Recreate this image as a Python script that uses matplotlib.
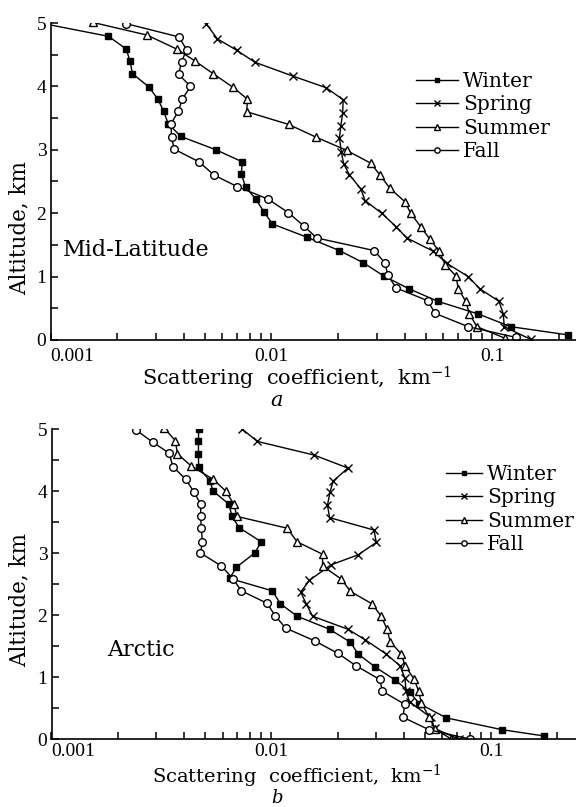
import numpy as np
import matplotlib
matplotlib.use('Agg')
import matplotlib.pyplot as plt
from matplotlib.ticker import FixedLocator, NullFormatter

plt.rcParams['font.family'] = 'DejaVu Serif'
plt.rcParams['mathtext.fontset'] = 'custom'
plt.rcParams['mathtext.rm'] = 'DejaVu Serif'
plt.rcParams['mathtext.it'] = 'DejaVu Serif:italic'

seasons = ['Winter', 'Spring', 'Summer', 'Fall']

# panel a: mid-latitude (altitude km, scattering coefficient km^-1)
mid_winter_alt = [5.0, 4.79, 4.59, 4.40, 4.20, 3.99, 3.80, 3.61, 3.41, 3.21, 3.0, 2.81, 2.62,
                  2.41, 2.22, 2.02, 1.83, 1.62, 1.41, 1.22, 1.01, 0.81, 0.61, 0.41, 0.21, 0.08]
mid_winter_val = [0.0009, 0.00183, 0.0022, 0.00229, 0.00235, 0.00279, 0.00306, 0.00325, 0.00341,
                  0.00389, 0.00561, 0.00738, 0.0073, 0.00764, 0.0085, 0.00925, 0.0101, 0.0145,
                  0.0203, 0.026, 0.0322, 0.0418, 0.0566, 0.0863, 0.121, 0.22]
mid_spring_alt = [4.99, 4.75, 4.57, 4.38, 4.16, 3.98, 3.79, 3.58, 3.38, 3.19, 2.97, 2.78, 2.61,
                  2.38, 2.2, 2.0, 1.79, 1.61, 1.40, 1.21, 1.0, 0.81, 0.61, 0.41, 0.21, 0.01]
mid_spring_val = [0.00506, 0.00569, 0.00696, 0.00842, 0.01256, 0.01765, 0.0211, 0.0210, 0.0206,
                  0.0203, 0.0207, 0.0212, 0.0225, 0.0254, 0.0265, 0.0315, 0.0366, 0.0409, 0.054,
                  0.0621, 0.0777, 0.0875, 0.107, 0.112, 0.113, 0.149]
mid_summer_alt = [5.01, 4.81, 4.59, 4.40, 4.20, 3.99, 3.80, 3.60, 3.40, 3.20, 2.99, 2.79, 2.60,
                  2.39, 2.18, 2.0, 1.79, 1.59, 1.40, 1.19, 1.01, 0.81, 0.61, 0.41, 0.21, 0.03]
mid_summer_val = [0.00155, 0.00273, 0.00372, 0.00451, 0.00545, 0.00667, 0.00778, 0.00773,
                  0.01196, 0.0159, 0.0219, 0.0281, 0.031, 0.0344, 0.0402, 0.0426, 0.0473,
                  0.0521, 0.0574, 0.061, 0.0684, 0.0700, 0.0757, 0.0787, 0.085, 0.1135]
mid_fall_alt = [4.99, 4.78, 4.58, 4.39, 4.19, 4.0, 3.80, 3.61, 3.41, 3.20, 3.01, 2.81, 2.60,
                2.42, 2.22, 2.01, 1.80, 1.61, 1.41, 1.21, 1.02, 0.82, 0.62, 0.42, 0.21, 0.04]
mid_fall_val = [0.0022, 0.00381, 0.00413, 0.00392, 0.0038, 0.0043, 0.00395, 0.00379, 0.00351,
                0.00353, 0.00363, 0.0047, 0.0055, 0.0070, 0.00968, 0.0119, 0.014, 0.016,
                0.0292, 0.0327, 0.0336, 0.0367, 0.0509, 0.055, 0.0777, 0.128]

# panel b: arctic
arc_winter_alt = [5.0, 4.80, 4.60, 4.38, 4.16, 4.0, 3.79, 3.59, 3.41, 3.18, 3.0, 2.77, 2.59,
                  2.39, 2.18, 1.98, 1.77, 1.56, 1.37, 1.16, 0.95, 0.76, 0.57, 0.34, 0.15, 0.05]
arc_winter_val = [0.00467, 0.00466, 0.00466, 0.00467, 0.00526, 0.00543, 0.0064, 0.00663,
                  0.00713, 0.0090, 0.0084, 0.00693, 0.00646, 0.0101, 0.011, 0.0131, 0.0184,
                  0.0229, 0.0248, 0.0297, 0.0366, 0.0425, 0.0471, 0.0626, 0.112, 0.173]
arc_spring_alt = [5.0, 4.80, 4.58, 4.37, 4.16, 3.99, 3.77, 3.57, 3.37, 3.17, 2.97, 2.81, 2.56,
                  2.37, 2.18, 1.98, 1.77, 1.60, 1.37, 1.18, 0.98, 0.77, 0.60, 0.35, 0.17, 0.0]
arc_spring_val = [0.00736, 0.00863, 0.01563, 0.0223, 0.0191, 0.0185, 0.018, 0.0184, 0.0293,
                  0.030, 0.0248, 0.0187, 0.0149, 0.0136, 0.0144, 0.0154, 0.0223, 0.0267,
                  0.0333, 0.0385, 0.0405, 0.041, 0.0425, 0.053, 0.0553, 0.071]
arc_summer_alt = [5.02, 4.81, 4.60, 4.40, 4.19, 4.0, 3.79, 3.59, 3.40, 3.18, 2.98, 2.79, 2.58,
                  2.38, 2.18, 1.98, 1.77, 1.57, 1.37, 1.18, 0.97, 0.77, 0.58, 0.36, 0.16, 0.0]
arc_summer_val = [0.00325, 0.00366, 0.00374, 0.00433, 0.00543, 0.0062, 0.00674, 0.00698,
                  0.0118, 0.0131, 0.0171, 0.0171, 0.0208, 0.0229, 0.0287, 0.0316, 0.0336,
                  0.0347, 0.039, 0.0406, 0.0445, 0.0468, 0.0481, 0.0521, 0.0556, 0.0658]
arc_fall_alt = [4.98, 4.79, 4.61, 4.39, 4.19, 3.98, 3.79, 3.59, 3.40, 3.18, 3.0, 2.79, 2.58,
                2.39, 2.19, 1.99, 1.79, 1.58, 1.38, 1.18, 0.96, 0.77, 0.56, 0.35, 0.15, 0.0]
arc_fall_val = [0.00243, 0.00288, 0.00343, 0.00357, 0.00408, 0.00445, 0.00477, 0.00477, 0.0048,
                0.00486, 0.00476, 0.00593, 0.0067, 0.0073, 0.00955, 0.0104, 0.0116, 0.0158,
                0.0201, 0.0243, 0.0311, 0.032, 0.0404, 0.0397, 0.0521, 0.0797]

x_ticks = [0.001, 0.01, 0.1]
x_ticklabels = ['0.001', '0.01', '0.1']
y_ticks = [0, 1, 2, 3, 4, 5]

styles = {
    'Winter': dict(marker='s', ms=4.5, mfc='black', mec='black'),
    'Spring': dict(marker='x', ms=5.5, mew=1.0, mec='black'),
    'Summer': dict(marker='^', ms=5.5, mfc='white', mec='black', mew=1.0),
    'Fall': dict(marker='o', ms=5.5, mfc='white', mec='black', mew=1.0),
}

W, H = 576, 807


def px(x, y):
    # pixel position (from top-left) to figure fraction
    return x / W, 1 - y / H


def draw_panel(ax, data, xmax, region, region_xy, legend_xy, handlelen, xpad):
    for name, (alt, val) in zip(seasons, data):
        ax.plot(val, alt, color='black', lw=1.0, label=name, **styles[name])
    ax.set_xscale('log')
    ax.set_xlim(0.001, xmax)
    ax.set_ylim(0, 5)
    for s in ['top', 'right']:
        ax.spines[s].set_visible(False)
    for s in ['left', 'bottom']:
        ax.spines[s].set_linewidth(1.2)
    ax.xaxis.set_major_locator(FixedLocator(x_ticks))
    ax.set_xticklabels(x_ticklabels, fontfamily='Liberation Serif', fontsize=14)
    ax.get_xticklabels()[0].set_horizontalalignment('left')
    minor = [m * d for d in [0.001, 0.01, 0.1] for m in range(2, 10)]
    ax.xaxis.set_minor_locator(FixedLocator(minor))
    ax.xaxis.set_minor_formatter(NullFormatter())
    ax.set_yticks(y_ticks)
    ax.set_yticklabels([str(t) for t in y_ticks], fontfamily='Liberation Serif', fontsize=14)
    ax.yaxis.set_minor_locator(FixedLocator([0.5, 1.5, 2.5, 3.5, 4.5]))
    ax.tick_params(which='both', direction='in', length=5, width=1.1)
    ax.tick_params(axis='x', which='both', pad=xpad)
    ax.tick_params(axis='y', which='both', pad=3)
    ax.text(region_xy[0], region_xy[1], region, transform=ax.figure.transFigure,
            fontsize=16, ha='left', va='center')
    ax.legend(loc='upper left', bbox_to_anchor=legend_xy, bbox_transform=ax.figure.transFigure,
              frameon=False, fontsize=14.5, handlelength=handlelen, handletextpad=0.25,
              labelspacing=0.22, borderpad=0, borderaxespad=0, markerscale=0.7)


fig = plt.figure(figsize=(W / 100, H / 100), dpi=100)

ax_a = fig.add_axes([50.5 / W, 1 - 340 / H, (W - 50.5) / W, 317 / H])
draw_panel(ax_a,
           [(mid_winter_alt, mid_winter_val), (mid_spring_alt, mid_spring_val),
            (mid_summer_alt, mid_summer_val), (mid_fall_alt, mid_fall_val)],
           0.2388, 'Mid-Latitude', px(63, 250), px(416, 72), 2.1, 6)

ax_b = fig.add_axes([51.5 / W, 1 - 739 / H, (W - 51.5) / W, 310 / H])
draw_panel(ax_b,
           [(arc_winter_alt, arc_winter_val), (arc_spring_alt, arc_spring_val),
            (arc_summer_alt, arc_summer_val), (arc_fall_alt, arc_fall_val)],
           0.243, 'Arctic', px(107, 650), px(446, 465), 1.8, 3)

xlabel = 'Scattering  coefficient,  km$^{\\mathregular{-1}}$'
fig.text(*px(297, 378), xlabel, fontsize=15, ha='center', va='center')
fig.text(*px(297, 776), xlabel, fontsize=14, ha='center', va='center')
fig.text(*px(20, 228), 'Altitude, km', fontsize=15.5, rotation=90, ha='center', va='center')
fig.text(*px(20, 600), 'Altitude, km', fontsize=15.5, rotation=90, ha='center', va='center')
fig.text(*px(277, 401), 'a', fontsize=15, style='italic', ha='center', va='center')
fig.text(*px(277, 807), 'b', fontsize=13, style='italic', ha='center', va='bottom')

plt.savefig('out.png', dpi=100)
